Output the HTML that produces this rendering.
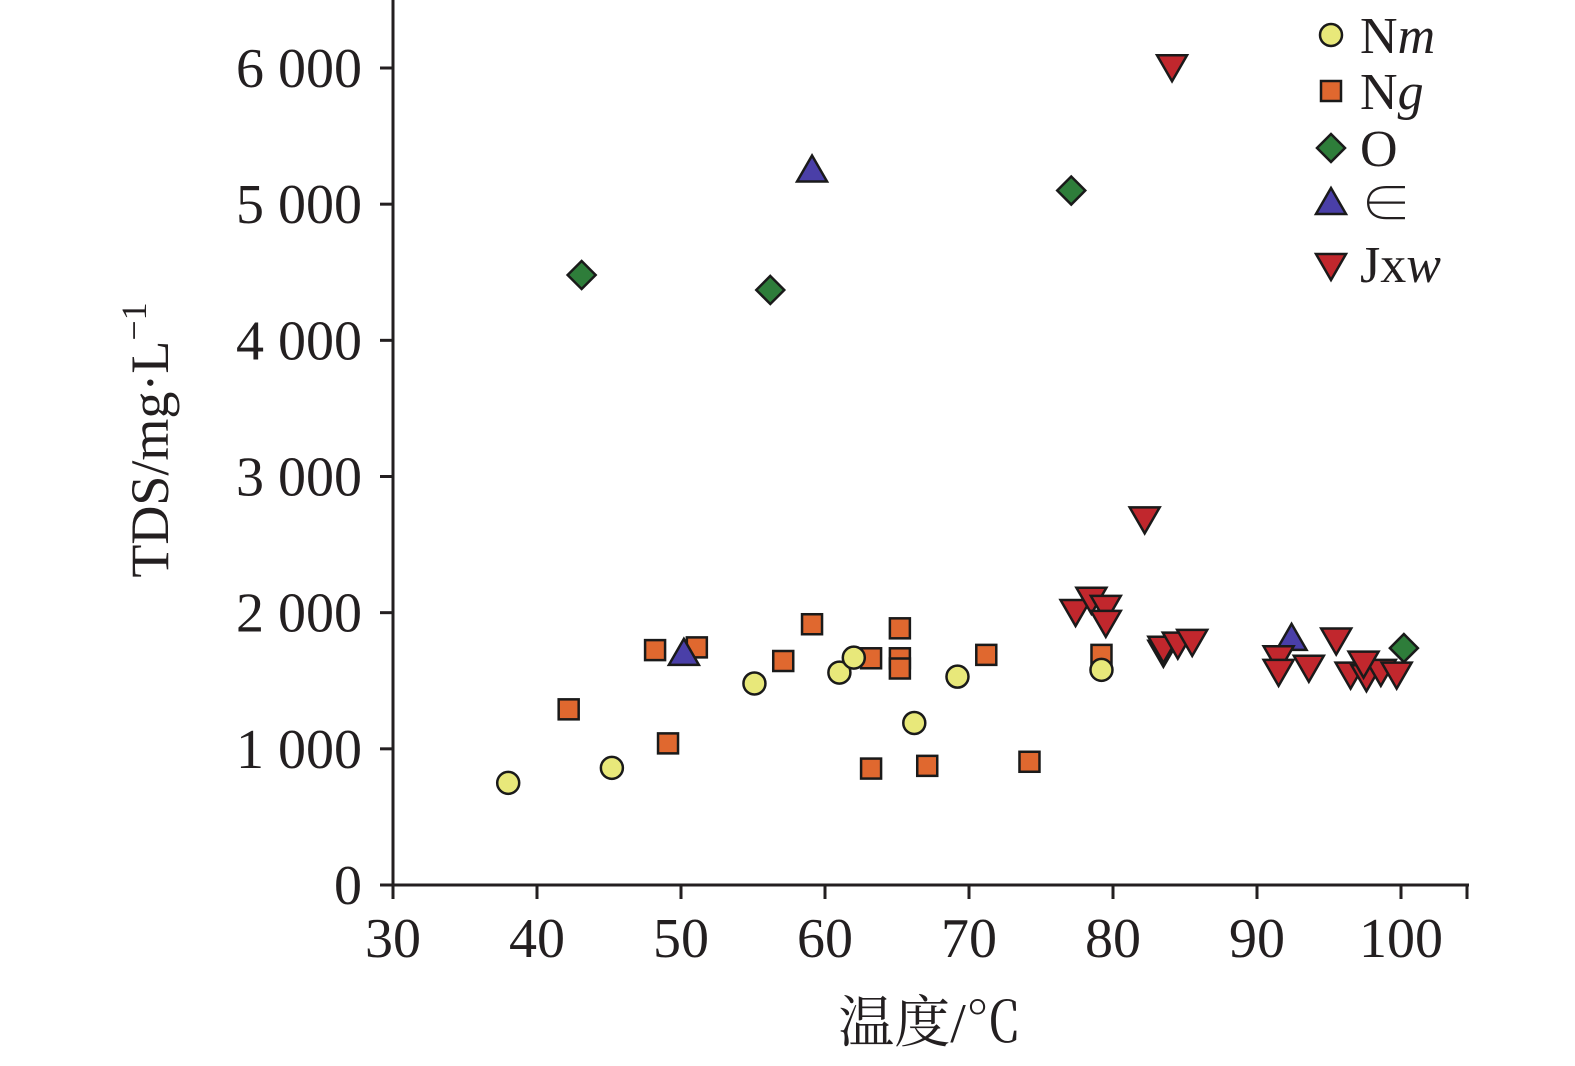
<!DOCTYPE html>
<html><head><meta charset="utf-8">
<style>
html,body{margin:0;padding:0;background:#fff;}
svg{display:block;}
text{font-family:"Liberation Serif","Noto Serif CJK SC",serif;fill:#231f20;}
</style></head>
<body>
<svg id="chart" width="1575" height="1066" viewBox="0 0 1575 1066" xmlns="http://www.w3.org/2000/svg">
<g id="axes"></g>
<g id="marks"></g>
<g id="legend"></g>
<text transform="translate(168,440) rotate(-90)" text-anchor="middle" font-size="54">TDS/mg·L<tspan dy="-22" font-size="36">−1</tspan></text>
<text x="930" y="1042" text-anchor="middle" font-size="56">温度/℃</text>
</svg>
<script>
const xTicks = [30,40,50,60,70,80,90,100];
const yTicks = [0,1000,2000,3000,4000,5000,6000];
const yTickLabels = ["0","1 000","2 000","3 000","4 000","5 000","6 000"];
const nmX = [38,45.2,55.1,61,62,66.2,69.2,79.2];
const nmY = [750,860,1480,1560,1670,1190,1530,1580];
const ngX = [42.2,48.2,51.1,49.1,57.1,59.1,63.2,63.2,65.2,65.2,65.2,67.1,71.2,74.2,79.2];
const ngY = [1290,1725,1745,1040,1645,1915,1665,855,1885,1665,1590,875,1690,905,1690];
const oX = [43.1,56.2,77.1,100.2];
const oY = [4480,4370,5100,1740];
const cX = [59.1,50.2,92.4];
const cY = [5240,1690,1800];
const jX = [84.1,82.2,77.4,78.5,79.5,79.5,83.5,83.5,84.5,85.5,91.5,91.5,93.6,95.5,96.5,97.6,98.6,99.7,97.4];
const jY = [6020,2700,2020,2110,2050,1940,1720,1750,1780,1800,1680,1580,1610,1810,1560,1540,1580,1560,1640];

const NS="http://www.w3.org/2000/svg";
const X0=393, XS=14.4, Y0=885, YS=(885-68)/6000;
function sx(v){return X0+(v-30)*XS;}
function sy(v){return Y0-v*YS;}
function mk(tag,attrs,parent){const e=document.createElementNS(NS,tag);for(const k in attrs)e.setAttribute(k,attrs[k]);parent.appendChild(e);return e;}
const axes=document.getElementById('axes');
let l=mk('line',{x1:X0,y1:0,x2:X0,y2:Y0+1,stroke:'#231f20','stroke-width':3},axes);


l=mk('line',{x1:380,y1:Y0,x2:1469,y2:Y0,stroke:'#231f20','stroke-width':3},axes);


xTicks.forEach(v=>{
  const t=mk('line',{x1:sx(v),y1:Y0,x2:sx(v),y2:Y0+14,stroke:'#231f20','stroke-width':3},axes);
  
  
  const tx=mk('text',{x:sx(v),y:Y0+72,'text-anchor':'middle','font-size':56},axes);
  
  
  tx.textContent=v;
});
l=mk('line',{x1:1467,y1:Y0,x2:1467,y2:Y0+14,stroke:'#231f20','stroke-width':3},axes);


yTicks.forEach((v,i)=>{
  const t=mk('line',{x1:380,y1:sy(v),x2:X0,y2:sy(v),stroke:'#231f20','stroke-width':3},axes);
  
  
  const tx=mk('text',{x:362,y:sy(v)+19,'text-anchor':'end','font-size':56},axes);
  
  
  tx.textContent=yTickLabels[i];
});
const marks=document.getElementById('marks');
const st={stroke:'#1a1a1a','stroke-width':2.5};
function circle(x,y,p,name){const e=mk('circle',Object.assign({cx:x,cy:y,r:11,fill:'#e8e87a'},st),p);}
function square(x,y,p,name){const e=mk('rect',Object.assign({x:x-10,y:y-10,width:20,height:20,fill:'#e0682f'},st),p);}
function diamond(x,y,p,name){const e=mk('polygon',Object.assign({points:`${x},${y-14} ${x+14},${y} ${x},${y+14} ${x-14},${y}`,fill:'#2e7d3a'},st),p);}
function tri(x,y,p,name){const e=mk('polygon',Object.assign({points:`${x},${y-16} ${x+15},${y+10} ${x-15},${y+10}`,fill:'#4a3fa8'},st),p);}
function dtri(x,y,p,name){const e=mk('polygon',Object.assign({points:`${x-15},${y-10} ${x+15},${y-10} ${x},${y+16}`,fill:'#c1272d'},st),p);}
ngX.forEach((v,i)=>square(sx(v),sy(ngY[i]),marks,'point-ng'));
nmX.forEach((v,i)=>circle(sx(v),sy(nmY[i]),marks,'point-nm'));
oX.forEach((v,i)=>diamond(sx(v),sy(oY[i]),marks,'point-o'));
cX.forEach((v,i)=>tri(sx(v),sy(cY[i]),marks,'point-cambrian'));
jX.forEach((v,i)=>dtri(sx(v),sy(jY[i]),marks,'point-jxw'));
const lg=document.getElementById('legend');
const items=[[circle,'Nm','m',35],[square,'Ng','g',91],[diamond,'O','',148],[tri,'∈','',204],[dtri,'Jxw','w',264]];
items.forEach(([f,lab,it,y])=>{
  f(1331,y,lg,'legend-marker');
  const t=mk('text',{x:1360,y:y+18,'font-size':52},lg);
  
  
  if(it){t.textContent=lab.slice(0,lab.length-1);const s=mk('tspan',{'font-style':'italic'},t);s.textContent=it;}
  else t.textContent=lab;
});
</script>
</body></html>
